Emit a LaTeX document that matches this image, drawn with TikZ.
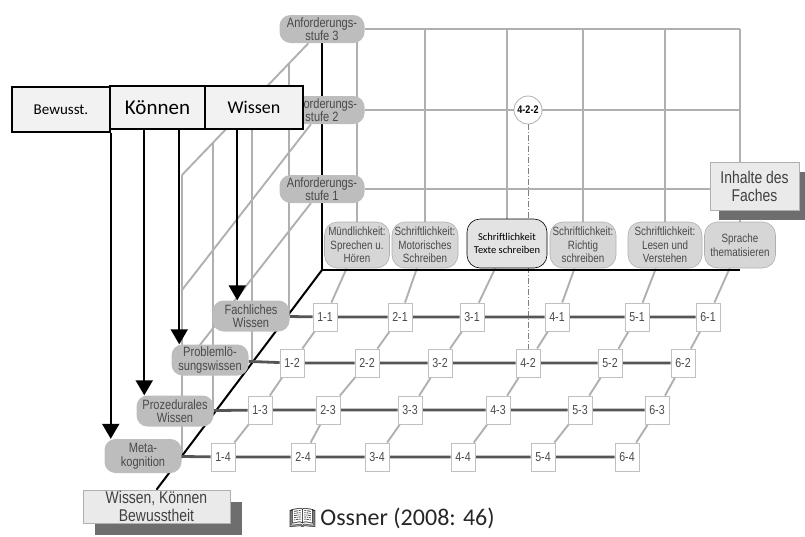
\documentclass[tikz,border=0pt]{standalone}
\usepackage{fontspec}
\setmainfont{Carlito}
\newfontfamily\narrowfont[FakeStretch=0.82]{Liberation Sans}
\newfontfamily\emojifont{Noto Emoji}
\usetikzlibrary{arrows.meta, positioning, calc, backgrounds, shadows}

\definecolor{gridgray}{HTML}{B0B0B0}
\definecolor{rowgray}{HTML}{555555}
\definecolor{labelfill}{HTML}{BDBDBD}
\definecolor{labeltext}{HTML}{4A4A4A}
\definecolor{contentfill}{HTML}{D6D6D6}
\definecolor{topfill}{HTML}{F2F2F2}
\definecolor{infofill}{HTML}{EAEAEA}
\definecolor{shadowgray}{HTML}{6E6E6E}

\begin{document}
\begin{tikzpicture}[
    x=1pt, y=-1pt,
    gridline/.style={draw=gridgray, line width=1.9pt},
    axis/.style={draw=black, line width=2pt},
    rowline/.style={draw=rowgray, line width=2.8pt},
    pickline/.style={draw=gray, line width=0.6pt,
        dash pattern=on 6pt off 2pt on 1pt off 2pt},
    level/.style={
        rounded corners=11pt, fill=labelfill, text=labeltext,
        font=\narrowfont\fontsize{13.5}{13.5}\selectfont, align=center,
        minimum width=85pt, minimum height=28pt, inner sep=0pt
    },
    know/.style={level, minimum width=77pt, minimum height=31pt},
    content/.style={
        rounded corners=13pt, fill=contentfill, draw=gridgray, line width=0.6pt,
        text=labeltext, font=\narrowfont\fontsize{12}{13.5}\selectfont,
        align=center, minimum height=46pt, inner sep=0pt
    },
    cell/.style={
        fill=white, draw=gridgray!80, line width=0.8pt, text=labeltext,
        font=\narrowfont\fontsize{13}{13}\selectfont,
        minimum width=24pt, minimum height=28pt, inner sep=0pt
    },
    pick/.style={
        circle, fill=white, draw=gridgray, line width=0.8pt, minimum size=28pt,
        inner sep=0pt, font=\narrowfont\bfseries\fontsize{11}{11}\selectfont
    },
    headbox/.style={
        fill=topfill, draw=black, line width=1.5pt, minimum height=43pt,
        inner sep=0pt
    },
    infobox/.style={
        fill=infofill, draw=gridgray, line width=0.6pt, text=black!75,
        font=\narrowfont\fontsize{17}{18}\selectfont, align=center, inner sep=0pt
    },
    arr/.style={-{Triangle[length=15pt,width=17pt]}, line width=2pt},
]
\useasboundingbox (0,0) rectangle (805,536);

% Anforderungsstufen
\node[level] (stufe3) at (322, 29)  {Anforderungs-\\stufe 3};
\node[level] (stufe2) at (322, 110) {Anforderungs-\\stufe 2};
\node[level] (stufe1) at (322, 189) {Anforderungs-\\stufe 1};

% Inhalte des Faches
\node[content, minimum width=65pt] (muend) at (357, 245) {Mündlichkeit:\\Sprechen u.\\Hören};
\node[content, minimum width=66pt] (motor) at (425, 245) {Schriftlichkeit:\\Motorisches\\Schreiben};
\node[content, minimum width=80pt, minimum height=49pt, fill=black!11, draw=black,
      text=black, font=\fontsize{10.5}{13}\selectfont] (texte) at (507, 243.5) {Schriftlichkeit\\Texte schreiben};
\node[content, minimum width=66pt] (richtig) at (583, 245) {Schriftlichkeit:\\Richtig\\schreiben};
\node[content, minimum width=74pt] (lesen) at (665, 245) {Schriftlichkeit:\\Lesen und\\Verstehen};
\node[content, minimum width=71pt] (sprache) at (740, 245) {Sprache\\thematisieren};

% Wissen, Koennen, Bewusstheit
\node[know] (fach) at (251, 316) {Fachliches\\Wissen};
\node[know] (prob) at (210, 360) {Problemlö-\\sungswissen};
\node[know] (proz) at (175, 411) {Prozedurales\\Wissen};
\node[know, minimum height=34pt] (meta) at (143, 456) {Meta-\\kognition};

% Zellen, Reihe 1
\node[cell] (c11) at (325, 317) {1-1};
\node[cell] (c21) at (400, 317) {2-1};
\node[cell] (c31) at (472, 317) {3-1};
\node[cell] (c41) at (557, 317) {4-1};
\node[cell] (c51) at (637, 317) {5-1};
\node[cell] (c61) at (708, 317) {6-1};

% Zellen, Reihe 2
\node[cell] (c12) at (292, 363) {1-2};
\node[cell] (c22) at (367, 363) {2-2};
\node[cell] (c32) at (440, 363) {3-2};
\node[cell] (c42) at (528, 363) {4-2};
\node[cell] (c52) at (610, 363) {5-2};
\node[cell] (c62) at (683, 363) {6-2};

% Zellen, Reihe 3
\node[cell] (c13) at (260, 410) {1-3};
\node[cell] (c23) at (328, 410) {2-3};
\node[cell] (c33) at (410, 410) {3-3};
\node[cell] (c43) at (498, 410) {4-3};
\node[cell] (c53) at (580, 410) {5-3};
\node[cell] (c63) at (657, 410) {6-3};

% Zellen, Reihe 4
\node[cell] (c14) at (223, 457) {1-4};
\node[cell] (c24) at (303, 457) {2-4};
\node[cell] (c34) at (377, 457) {3-4};
\node[cell] (c44) at (463, 457) {4-4};
\node[cell] (c54) at (543, 457) {5-4};
\node[cell] (c64) at (627, 457) {6-4};

% ausgewaehlte Zelle
\node[pick] (c422) at (528, 110) {4-2-2};

% Achsentitel
\node[infobox, minimum width=89pt, minimum height=48pt,
      drop shadow={shadow xshift=9pt, shadow yshift=-10pt, fill=shadowgray, opacity=1}]
      (inhalte) at (754.5, 186) {Inhalte des\\Faches};
\node[infobox, minimum width=147pt, minimum height=33pt,
      drop shadow={shadow xshift=12pt, shadow yshift=-12pt, fill=shadowgray, opacity=1}]
      (wkb) at (156.5, 506.5) {Wissen, Können\\Bewusstheit};

% Kopfzeile
\node[headbox, minimum width=98pt, minimum height=45pt, font=\fontsize{15}{15}\selectfont] (bewusst) at (61, 109.5) {Bewusst.};
\node[headbox, minimum width=95pt, font=\fontsize{21}{21}\selectfont] (koennen) at (157.5, 107.5) {Können};
\node[headbox, minimum width=98pt, font=\fontsize{18}{18}\selectfont] (wissen) at (254, 107.5) {Wissen};

% Quelle
\node[anchor=west, font=\fontsize{24}{24}\selectfont, text=black!85] (src) at (285, 518)
    {{\emojifont\fontsize{22}{22}\selectfont 📖}\,Ossner (2008: 46)};

% Pfeile
\coordinate (ka) at ($(koennen.south west)+(35,0)$);
\coordinate (kb) at ($(koennen.south west)+(70,0)$);
\coordinate (wa) at ($(wissen.south west)+(33,0)$);
\draw[arr] (bewusst.south east) -- (bewusst.south east |- meta.north);
\draw[arr] (ka) -- (ka |- proz.north);
\draw[arr] (kb) -- (kb |- prob.north);
\draw[arr] (wa) -- (wa |- fach.north);

\begin{pgfonlayer}{background}
% Rueckwand
\draw[gridline] (stufe3) -- (stufe3 -| sprache);
\draw[gridline] (stufe2) -- (stufe2 -| sprache);
\draw[gridline] (stufe1) -- (stufe1 -| sprache);
\draw[gridline] (muend |- stufe3) -- (muend);
\draw[gridline] (motor |- stufe3) -- (motor);
\draw[gridline] (texte |- stufe3) -- (texte);
\draw[gridline] (richtig |- stufe3) -- (richtig);
\draw[gridline] (lesen |- stufe3) -- (lesen);
\draw[gridline] (sprache |- stufe3) -- (sprache);

% Seitenwand
\coordinate (wall1) at (289, 63);
\coordinate (wall2) at (252, 102);
\coordinate (wall3) at (213, 142);
\coordinate (wall4) at (182, 175);
\coordinate (end2) at (182, 290);
\coordinate (end1) at (196, 350);
\draw[gridline] (stufe3) -- (wall4);
\draw[gridline] (stufe2) -- (end2);
\draw[gridline] (stufe1) -- (end1);
\draw[gridline] (wall1) -- (wall1 |- fach);
\draw[gridline] (wall2) -- (wall2 |- prob);
\draw[gridline] (wall3) -- (wall3 |- proz);
\draw[gridline] (wall4) -- (wall4 |- meta);

% Boden
\draw[gridline] (muend) -- (c11) -- (c12) -- (c13) -- (c14);
\draw[gridline] (motor) -- (c21) -- (c22) -- (c23) -- (c24);
\draw[gridline] (texte) -- (c31) -- (c32) -- (c33) -- (c34);
\draw[gridline] (richtig) -- (c41) -- (c42) -- (c43) -- (c44);
\draw[gridline] (lesen) -- (c51) -- (c52) -- (c53) -- (c54);
\draw[gridline] (sprache) -- (c61) -- (c62) -- (c63) -- (c64);
\draw[pickline] (c422) -- (c42);

% Achsen
\coordinate (origin) at (322, 270);
\draw[axis] (stufe3) -- (origin);
\draw[axis] (origin) -- (origin -| sprache);
\draw[axis] (origin) -- (wkb.north);

% Reihen
\draw[rowline] (fach) -- (c11) -- (c21) -- (c31) -- (c41) -- (c51) -- (c61);
\draw[rowline] (prob) -- (c12) -- (c22) -- (c32) -- (c42) -- (c52) -- (c62);
\draw[rowline] (proz) -- (c13) -- (c23) -- (c33) -- (c43) -- (c53) -- (c63);
\draw[rowline] (meta) -- (c14) -- (c24) -- (c34) -- (c44) -- (c54) -- (c64);
\end{pgfonlayer}

\end{tikzpicture}
\end{document}
